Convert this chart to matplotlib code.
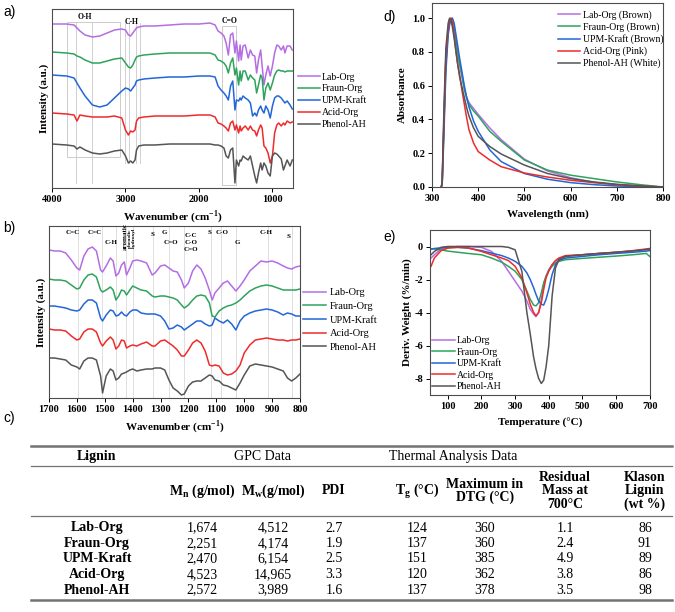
import numpy as np
import matplotlib
matplotlib.use('Agg')
import matplotlib.pyplot as plt
from matplotlib.patches import Rectangle

plt.rcParams['font.family'] = ['Liberation Serif', 'DejaVu Serif']
plt.rcParams['axes.unicode_minus'] = False

# ---------------- data ----------------
names = ['Lab-Org', 'Fraun-Org', 'UPM-Kraft', 'Acid-Org', 'Phenol-AH']
uv_names = ['Lab-Org (Brown)', 'Fraun-Org (Brown)', 'UPM-Kraft (Brown)', 'Acid-Org (Pink)', 'Phenol-AH (White)']
colors = ['#b46de4', '#2ea35c', '#2266d8', '#ee2b2b', '#555555']

# a) full FTIR spectra (offset, arbitrary units)
wn_a = [4000, 3800, 3700, 3660, 3620, 3550, 3450, 3350, 3250, 3150, 3050, 3000, 2960, 2930, 2900,
        2870, 2850, 2820, 2750, 2600, 2400, 2200, 2000, 1850, 1780, 1740, 1700, 1660, 1630, 1600,
        1570, 1540, 1510, 1490, 1460, 1440, 1425, 1400, 1370, 1330, 1300, 1270, 1240, 1215, 1190,
        1160, 1140, 1115, 1090, 1060, 1030, 1000, 970, 940, 915, 880, 850, 830, 800, 760, 730]
lab_a = [164, 164, 163, 160, 157, 153, 151, 152, 155, 158, 159, 158, 153, 152, 155,
         158, 160, 161, 162, 162, 163, 164, 164, 165, 163, 157, 155, 152, 145, 133,
         153, 155, 135, 147, 127, 143, 128, 142, 143, 130, 138, 133, 132, 115, 128,
         138, 122, 103, 113, 122, 112, 122, 135, 143, 142, 138, 142, 135, 142, 142, 138]
fraun_a = [136, 135, 134, 132, 131, 128, 125, 125, 127, 129, 130, 125, 121, 120, 123,
           128, 131, 132, 133, 134, 135, 135, 135, 135, 133, 128, 127, 125, 122, 115,
           125, 130, 113, 120, 103, 117, 107, 117, 117, 108, 113, 110, 108, 95, 103,
           113, 110, 88, 100, 105, 98, 105, 113, 117, 118, 117, 117, 116, 117, 117, 117]
upm_a = [113, 112, 110, 105, 100, 92, 83, 81, 83, 90, 97, 100, 99, 97, 100,
         103, 107, 108, 109, 110, 111, 111, 112, 112, 111, 102, 98, 95, 92, 88,
         102, 107, 78, 88, 87, 90, 88, 92, 90, 88, 85, 72, 75, 72, 78,
         82, 78, 75, 82, 78, 70, 82, 90, 92, 92, 90, 87, 85, 87, 83, 79]
acid_a = [75, 74, 73, 67, 73, 72, 71, 71, 71, 72, 70, 58, 53, 57, 56,
          58, 67, 70, 71, 72, 72, 72, 73, 73, 71, 65, 64, 62, 60, 57,
          65, 67, 58, 63, 55, 62, 57, 60, 62, 58, 62, 58, 57, 52, 58,
          63, 60, 42, 40, 35, 25, 32, 55, 63, 65, 62, 65, 63, 67, 65, 66]
phenol_a = [44, 43, 42, 39, 41, 38, 35, 34, 35, 37, 38, 32, 25, 27, 25,
            28, 38, 42, 43, 43, 44, 44, 44, 44, 43, 43, 42, 40, 32, 30,
            38, 40, 5, 28, 22, 28, 27, 32, 30, 28, 32, 22, 12, 5, 15,
            25, 18, 25, 22, 15, 12, 32, 35, 34, 32, 29, 18, 22, 28, 22, 28]

# b) fingerprint region
wn_b = [1700, 1680, 1660, 1640, 1620, 1600, 1590, 1575, 1560, 1545, 1530, 1515, 1508, 1495, 1480,
        1470, 1460, 1450, 1440, 1430, 1422, 1410, 1400, 1385, 1370, 1350, 1330, 1320, 1300, 1285,
        1270, 1255, 1240, 1225, 1215, 1200, 1185, 1170, 1155, 1140, 1125, 1115, 1105, 1090, 1075,
        1060, 1045, 1030, 1015, 1000, 980, 960, 940, 920, 900, 880, 860, 845, 830, 815, 800]
lab_b = [148, 147, 147, 145, 138, 130, 128, 142, 149, 151, 147, 128, 126, 132, 140,
         137, 122, 125, 133, 136, 123, 130, 137, 138, 137, 135, 123, 125, 132, 133,
         130, 127, 126, 118, 110, 115, 127, 133, 129, 120, 108, 98, 105, 110, 115,
         117, 112, 107, 112, 118, 127, 132, 137, 136, 137, 135, 132, 130, 129, 131, 132]
fraun_b = [119, 118, 118, 117, 113, 109, 110, 118, 123, 124, 121, 108, 106, 108, 111,
           108, 98, 102, 108, 107, 103, 108, 112, 110, 108, 107, 102, 101, 102, 102,
           101, 100, 98, 93, 90, 93, 98, 102, 103, 102, 95, 82, 81, 87, 90,
           92, 93, 95, 98, 102, 107, 110, 112, 113, 112, 110, 108, 108, 108, 108, 109]
upm_b = [92, 92, 91, 90, 88, 87, 88, 94, 98, 98, 95, 80, 77, 83, 88,
         87, 82, 83, 86, 83, 82, 86, 88, 88, 85, 84, 84, 84, 82, 77,
         69, 70, 73, 71, 68, 71, 74, 77, 77, 74, 72, 73, 80, 77, 75,
         78, 74, 68, 77, 82, 85, 87, 88, 89, 88, 86, 83, 85, 84, 82, 82]
acid_b = [69, 68, 68, 67, 62, 58, 59, 66, 69, 69, 66, 55, 52, 57, 61,
          58, 49, 52, 58, 57, 50, 52, 53, 52, 54, 56, 52, 52, 57, 58,
          55, 52, 48, 42, 42, 48, 55, 58, 55, 47, 33, 32, 33, 32, 25,
          23, 24, 27, 33, 45, 53, 58, 59, 60, 59, 58, 58, 57, 58, 58, 59]
phenol_b = [40, 40, 39, 38, 33, 31, 29, 37, 40, 40, 38, 22, 5, 22, 29,
            27, 18, 20, 24, 25, 26, 28, 29, 27, 28, 29, 29, 30, 30, 28,
            18, 10, 7, 3, 4, 12, 16, 17, 17, 20, 23, 22, 18, 17, 13,
            12, 10, 8, 15, 23, 32, 34, 33, 32, 31, 29, 27, 20, 17, 20, 24]
band_lines_b = [1595, 1510, 1460, 1425, 1400, 1327, 1270, 1215, 1120, 1085, 1030, 915, 830]

# d) UV-vis
wl = [320, 322, 326, 330, 335, 338, 341, 344, 348, 352, 356, 360, 365, 370, 375, 380, 390, 400,
      425, 450, 500, 550, 600, 650, 700, 750, 800]
lab_uv = [0, 0.02, 0.40, 0.75, 0.93, 0.98, 1.0, 0.99, 0.94, 0.86, 0.78, 0.72, 0.65, 0.58, 0.53, 0.50,
          0.465, 0.43, 0.35, 0.28, 0.165, 0.095, 0.055, 0.028, 0.012, 0.004, 0]
fraun_uv = [0, 0.02, 0.38, 0.73, 0.92, 0.97, 0.995, 1.0, 0.95, 0.87, 0.79, 0.73, 0.66, 0.58, 0.53, 0.49,
            0.45, 0.42, 0.33, 0.27, 0.16, 0.10, 0.07, 0.05, 0.03, 0.014, 0]
upm_uv = [0, 0.01, 0.33, 0.68, 0.90, 0.96, 0.99, 1.0, 0.97, 0.90, 0.83, 0.76, 0.68, 0.60, 0.53, 0.475,
          0.39, 0.33, 0.22, 0.15, 0.08, 0.046, 0.026, 0.014, 0.006, 0.002, 0]
acid_uv = [0, 0.02, 0.42, 0.78, 0.94, 0.99, 1.0, 0.98, 0.90, 0.80, 0.72, 0.66, 0.57, 0.49, 0.41, 0.34,
           0.26, 0.21, 0.16, 0.12, 0.083, 0.059, 0.04, 0.026, 0.014, 0.006, 0]
phenol_uv = [0, 0.03, 0.48, 0.82, 0.97, 1.0, 0.99, 0.95, 0.88, 0.80, 0.72, 0.65, 0.59, 0.53, 0.47, 0.42,
             0.35, 0.30, 0.24, 0.195, 0.13, 0.08, 0.05, 0.03, 0.016, 0.007, 0]

# e) DTG
temp = [50, 60, 80, 100, 130, 160, 200, 230, 260, 280, 300, 320, 335, 345, 355, 362, 370, 378, 385,
        392, 400, 410, 420, 430, 450, 500, 550, 600, 650, 690, 700]
lab_dtg = [-0.7, -0.5, -0.15, -0.05, 0, 0, -0.05, -0.3, -0.9, -1.5, -2.1, -2.7, -3.3, -3.8, -4.1, -4.25,
           -4.0, -3.2, -2.3, -1.8, -1.4, -1.1, -0.9, -0.75, -0.6, -0.5, -0.42, -0.35, -0.27, -0.2, -0.2]
fraun_dtg = [-0.15, -0.15, -0.2, -0.28, -0.35, -0.42, -0.5, -0.7, -0.95, -1.2, -1.5, -2.0, -2.7, -3.2,
             -3.55, -3.6, -3.4, -2.8, -2.2, -1.8, -1.45, -1.2, -1.0, -0.9, -0.8, -0.72, -0.65, -0.58,
             -0.5, -0.42, -0.6]
upm_dtg = [-0.15, -0.12, -0.08, -0.05, -0.05, -0.1, -0.25, -0.4, -0.55, -0.7, -0.9, -1.2, -1.6, -2.0,
           -2.5, -2.9, -3.3, -3.5, -3.55, -3.2, -2.6, -1.7, -1.1, -0.85, -0.7, -0.6, -0.5, -0.42, -0.35,
           -0.28, -0.25]
acid_dtg = [-1.2, -0.7, -0.25, -0.1, -0.05, -0.08, -0.3, -0.5, -0.7, -0.85, -1.2, -1.9, -2.8, -3.5,
            -4.0, -4.2, -4.0, -3.4, -2.6, -1.9, -1.5, -1.1, -0.85, -0.7, -0.55, -0.5, -0.42, -0.35,
            -0.25, -0.15, -0.12]
phenol_dtg = [-0.5, -0.3, -0.05, 0, 0, 0, 0, 0, 0, -0.05, -0.2, -1.5, -4.0, -5.3, -6.7, -7.4, -8.0,
              -8.3, -8.1, -7.3, -6.0, -3.0, -1.3, -0.8, -0.6, -0.5, -0.42, -0.35, -0.27, -0.18, -0.15]

# c) table
mn = ['1,674', '2,251', '2,470', '4,523', '2,572']
mw = ['4,512', '4,174', '6,154', '14,965', '3,989']
pdi = ['2.7', '1.9', '2.5', '3.3', '1.6']
tg = ['124', '137', '151', '120', '137']
dtg_max = ['360', '360', '385', '362', '378']
residual = ['1.1', '2.4', '4.9', '3.8', '3.5']
klason = ['86', '91', '89', '86', '98']

W, H = 675, 612
fig = plt.figure(figsize=(W / 100, H / 100), dpi=100)


def box(l, t, r, b):
    return [l / W, 1 - b / H, (r - l) / W, (b - t) / H]


def style(ax):
    for s in ax.spines.values():
        s.set_color('0.3')
        s.set_linewidth(0.8)
    ax.tick_params(direction='out', length=3, width=0.7, labelsize=7.5, pad=2)
    for lb in ax.get_xticklabels() + ax.get_yticklabels():
        lb.set_fontweight('bold')


lab_kw = dict(fontsize=8, fontweight='bold')
leg_kw = dict(loc='upper left', frameon=False, handlelength=2.3, borderpad=0, borderaxespad=0)

# ---------- a ----------
ax_a = fig.add_axes(box(52, 9, 293, 188))
for series, c, n in zip([lab_a, fraun_a, upm_a, acid_a, phenol_a], colors, names):
    ax_a.plot(wn_a, series, color=c, lw=1.1, label=n)
ax_a.set_xlim(4000, 720)
ax_a.set_ylim(0, 179)
ax_a.set_yticks([])
ax_a.set_xticks([4000, 3000, 2000, 1000])
for x in [3670, 3450]:
    ax_a.plot([x, x], [5, 166], color='0.82', lw=0.7, zorder=0)
for x in [3010, 2950, 2860, 2805]:
    ax_a.plot([x, x], [25, 165], color='0.82', lw=0.7, zorder=0)
ax_a.add_patch(Rectangle((3800, 31), 3077 - 3800, 135, fill=False, ec='0.8', lw=0.7, zorder=0))
ax_a.add_patch(Rectangle((1690, 3), 1495 - 1690, 159, fill=False, ec='0.8', lw=0.7, zorder=0))
ax_a.text(3550, 171, 'O-H', fontsize=5.5, fontweight='bold', ha='center', va='center')
ax_a.text(2918, 166, 'C-H', fontsize=5.5, fontweight='bold', ha='center', va='center')
ax_a.text(1587, 167, 'C=O', fontsize=5.5, fontweight='bold', ha='center', va='center')
ax_a.set_xlabel('Wavenumber (cm$^{\\mathregular{-1}}$)', labelpad=3, **lab_kw)
ax_a.set_ylabel('Intensity (a.u.)', labelpad=2, **lab_kw)
style(ax_a)
ax_a.legend(bbox_to_anchor=(1.02, 0.645), fontsize=7, handletextpad=0.2, labelspacing=0.3, **leg_kw)

# ---------- b ----------
ax_b = fig.add_axes(box(49, 226, 300, 398))
for series, c, n in zip([lab_b, fraun_b, upm_b, acid_b, phenol_b], colors, names):
    ax_b.plot(wn_b, series, color=c, lw=1.1, label=n)
for x in band_lines_b:
    ax_b.axvline(x, color='0.85', lw=0.6, zorder=0)
ax_b.set_xlim(1700, 800)
ax_b.set_ylim(0, 172)
ax_b.set_yticks([])
ax_b.set_xticks(range(1700, 799, -100))
ann = dict(fontsize=5, fontweight='bold', ha='center', va='center')
ax_b.text(1616, 165, 'C=C', **ann)
ax_b.text(1536, 165, 'C=C', **ann)
ax_b.text(1479, 155, 'C-H', **ann)
ax_b.text(1427, 161, 'aromatic', rotation=90, **ann)
ax_b.text(1403, 160, 'phenolic\nhydroxyl', rotation=90, fontsize=3.8, fontweight='bold',
          ha='center', va='center', linespacing=0.9)
ax_b.text(1330, 163, 'S', **ann)
ax_b.text(1288, 166, 'G', **ann)
ax_b.text(1261, 156, 'C=O', **ann)
ax_b.text(1191, 155.5, 'C-C\nC-O\nC=O', linespacing=1.45, **ann)
ax_b.text(1126, 165, 'S', **ann)
ax_b.text(1081, 166, 'C-O', **ann)
ax_b.text(1024, 155, 'G', **ann)
ax_b.text(920, 166, 'C-H', **ann)
ax_b.text(841, 162, 'S', **ann)
ax_b.set_xlabel('Wavenumber (cm$^{\\mathregular{-1}}$)', labelpad=3, **lab_kw)
ax_b.set_ylabel('Intensity (a.u.)', labelpad=2, **lab_kw)
style(ax_b)
ax_b.legend(bbox_to_anchor=(1.01, 0.64), fontsize=7.5, handletextpad=0.3, labelspacing=0.42, **leg_kw)

# ---------- d ----------
ax_d = fig.add_axes(box(432, 3, 663, 187))
for series, c, n in zip([lab_uv, fraun_uv, upm_uv, acid_uv, phenol_uv], colors, uv_names):
    ax_d.plot(wl, series, color=c, lw=1.1, label=n)
ax_d.set_xlim(300, 800)
ax_d.set_ylim(0, 1.09)
ax_d.set_xticks(range(300, 801, 100))
ax_d.set_yticks(np.arange(0, 1.01, 0.2))
ax_d.set_yticklabels([f'{v:.1f}' for v in np.arange(0, 1.01, 0.2)])
ax_d.set_xlabel('Wavelength (nm)', labelpad=5, **lab_kw)
ax_d.set_ylabel('Absorbance', labelpad=4, **lab_kw)
style(ax_d)
ax_d.legend(bbox_to_anchor=(0.545, 0.96), fontsize=7, handletextpad=0.25, labelspacing=0.25, **leg_kw)

# ---------- e ----------
ax_e = fig.add_axes(box(430, 230, 650, 395))
for series, c, n in zip([lab_dtg, fraun_dtg, upm_dtg, acid_dtg, phenol_dtg], colors, names):
    ax_e.plot(temp, series, color=c, lw=1.1, label=n)
ax_e.set_xlim(47, 701)
ax_e.set_ylim(-9, 1)
ax_e.set_xticks(range(100, 701, 100))
ax_e.set_yticks([0, -2, -4, -6, -8])
ax_e.set_xlabel('Temperature (°C)', labelpad=5, **lab_kw)
ax_e.set_ylabel('Deriv. Weight (%/min)', labelpad=2, **lab_kw)
style(ax_e)
ax_e.legend(bbox_to_anchor=(0.01, 0.355), fontsize=7, handletextpad=0.25, labelspacing=0.25, **leg_kw)

# ---------- overlay: panel letters and table ----------
ov = fig.add_axes([0, 0, 1, 1], zorder=-1)
ov.set_xlim(0, W)
ov.set_ylim(H, 0)
ov.axis('off')
for lbl, x, y in [('a)', 3, 12), ('b)', 3, 228), ('c)', 3, 418), ('d)', 383, 17), ('e)', 383, 237)]:
    ov.text(x, y, lbl, fontsize=10, family='Liberation Sans', ha='left', va='center')

x0, x1 = 31, 672
ov.plot([x0, x1], [446, 446], color='0.45', lw=1.8)
ov.plot([x0, x1], [466, 466], color='0.45', lw=0.9)
ov.plot([x0, x1], [516, 516], color='0.45', lw=0.9)
ov.plot([x0, x1], [600, 600], color='0.45', lw=1.8)

tfs = 10
ov.text(97, 456.5, 'Lignin', fontsize=tfs, fontweight='bold', ha='center', va='center')
ov.text(263, 456.5, 'GPC Data', fontsize=tfs, ha='center', va='center')
ov.text(453, 456.5, 'Thermal Analysis Data', fontsize=tfs, ha='center', va='center')

col_x = [97, 202, 273, 334, 417, 485, 565, 645]
heads = ['', 'M$_\\mathregular{n}$ (g/mol)', 'M$_\\mathregular{w}$(g/mol)', 'PDI',
         'T$_\\mathregular{g}$ (°C)', 'Maximum in\nDTG (°C)', 'Residual\nMass at\n700°C', 'Klason\nLignin\n(wt %)']
for x, h in zip(col_x, heads):
    ov.text(x, 491, h, fontsize=tfs, fontweight='bold', ha='center', va='center', linespacing=1.05)

row_y = [528, 543.5, 559, 574.5, 590]
for i, y in enumerate(row_y):
    ov.text(col_x[0], y, names[i], fontsize=tfs, fontweight='bold', ha='center', va='center')
    for x, col in zip(col_x[1:], [mn, mw, pdi, tg, dtg_max, residual, klason]):
        ov.text(x, y, col[i], fontsize=tfs, ha='center', va='center')

fig.savefig('out.png', dpi=100)
